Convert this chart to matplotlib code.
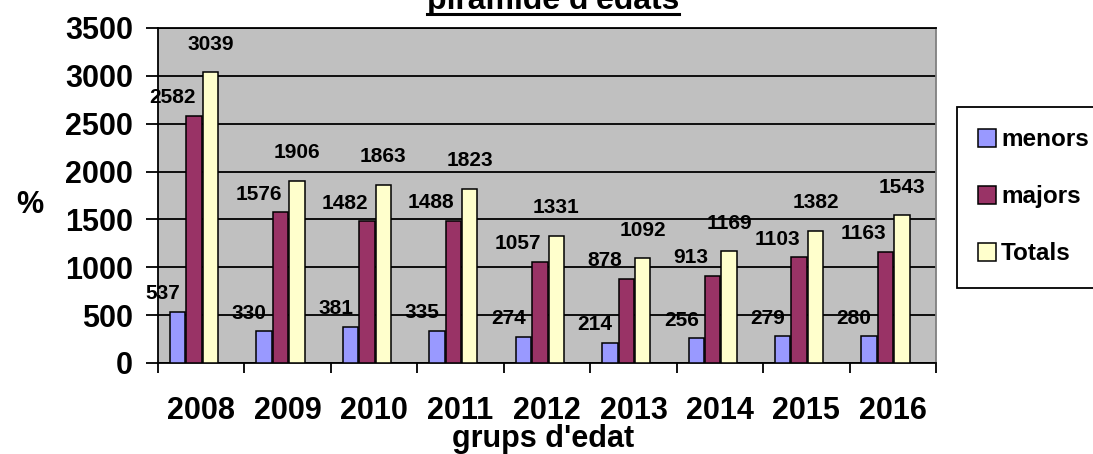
import numpy as np
import matplotlib.pyplot as plt
from matplotlib.patches import Rectangle
from matplotlib.lines import Line2D

plt.rcParams['font.family'] = ['Liberation Sans', 'DejaVu Sans']
plt.rcParams['font.weight'] = 'bold'

# ---- dades ----
anys = ['2008', '2009', '2010', '2011', '2012', '2013', '2014', '2015', '2016']
menors = [537, 330, 381, 335, 274, 214, 256, 279, 280]
majors = [2582, 1576, 1482, 1488, 1057, 878, 913, 1103, 1163]
totals = [3039, 1906, 1863, 1823, 1331, 1092, 1169, 1382, 1543]
yticks = [0, 500, 1000, 1500, 2000, 2500, 3000, 3500]

W, H = 1093, 454
fig = plt.figure(figsize=(W / 100, H / 100), dpi=100)
ax = fig.add_axes([158 / W, 1 - 363 / H, (936 - 158) / W, (363 - 28) / H])
ax.set_facecolor('#C0C0C0')

x = np.arange(len(anys))
bw = 0.178
# (nom, valors, color, desplaçament barra, desplaçament etiqueta en px)
series = [
    ('menors', menors, '#9999FF', -0.19, -15, 18),
    ('majors', majors, '#993366', 0.0, -22, 18),
    ('Totals', totals, '#FFFFCC', 0.19, 0, 28),
]

handles = []
for nom, vals, col, off, dx, dy in series:
    b = ax.bar(x + off, vals, bw, color=col, edgecolor='black', linewidth=1.1,
               label=nom, zorder=3)
    handles.append(b)
    for xi, v in zip(x + off, vals):
        ax.annotate(str(v), (xi, v), xytext=(dx, dy), textcoords='offset pixels',
                    ha='center', va='center', fontsize=15, fontweight='bold',
                    zorder=4)

ax.set_xlim(-0.417, len(anys) - 0.417)
ax.set_ylim(0, 3500)
ax.set_yticks(yticks)
ax.yaxis.grid(True, color='black', linewidth=1.3, zorder=1)
ax.set_axisbelow(True)
ax.tick_params(axis='y', labelsize=22, length=9, width=1.3, pad=9, direction='out')

# etiquetes d'anys al centre del grup, marques als límits de grup
ax.set_xticks(x + 0.083)
ax.set_xticklabels(anys)
ax.set_xticks(np.arange(len(anys) + 1) - 0.417, minor=True)
ax.tick_params(axis='x', which='major', length=0, labelsize=22, pad=24)
ax.tick_params(axis='x', which='minor', length=7, width=1.3, direction='out')

for s in ['left', 'bottom', 'top']:
    ax.spines[s].set_color('black')
    ax.spines[s].set_linewidth(1.3)
ax.spines['right'].set_color('#808080')
ax.spines['right'].set_linewidth(1.3)

ax.set_xlabel("grups d'edat", fontsize=22, fontweight='bold')
ax.xaxis.set_label_coords(0.495, -0.182)
fig.text(30 / W, 1 - 205 / H, '%', fontsize=22, fontweight='bold',
         ha='center', va='center')

# títol subratllat (retallat a dalt)
t = fig.text(553 / W, 1 - 9 / H, "piràmide d'edats", fontsize=23,
             fontweight='bold', ha='center', va='baseline')
fig.canvas.draw()
bb = t.get_window_extent()
fig.add_artist(Line2D([bb.x0 / W, bb.x1 / W], [1 - 13.5 / H, 1 - 13.5 / H],
                      color='black', linewidth=2.2, transform=fig.transFigure))

# llegenda
fig.add_artist(Rectangle((957 / W, 1 - 288 / H), 0.15, 181 / H,
                         transform=fig.transFigure, facecolor='white',
                         edgecolor='black', linewidth=1.3))
leg = fig.legend(handles=handles, loc='upper left',
                 bbox_to_anchor=(966 / W, 1 - 116 / H), frameon=False,
                 fontsize=17.5, handlelength=0.75, handleheight=0.75,
                 handletextpad=0.2, labelspacing=1.4, borderpad=0)

fig.savefig('out.png', dpi=100)
